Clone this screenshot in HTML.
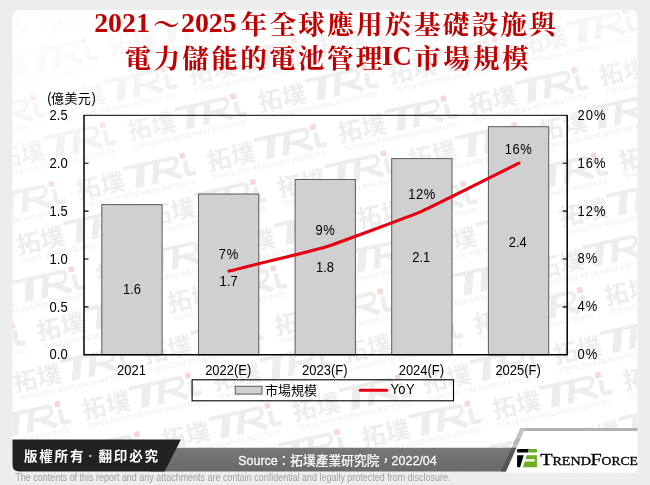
<!DOCTYPE html>
<html lang="zh-Hant"><head><meta charset="utf-8"><title>2021-2025 BMIC market</title>
<style>
html,body{margin:0;padding:0}
body{width:650px;height:485px;overflow:hidden;background:#ededed;font-family:"Liberation Sans",sans-serif}
svg{display:block}
text{font-family:"Liberation Sans",sans-serif}
.ser text{font-family:"Liberation Serif",serif;font-weight:bold}
.serr text{font-family:"Liberation Serif",serif;font-weight:normal}
.ax{fill:#000}
</style></head><body>
<svg style="will-change:transform" width="650" height="485" viewBox="0 0 650 485">
<defs>
<clipPath id="panel"><path d="M20 10H630Q637.5 10 637.5 17.5V469.4L634.5 472.4H505.5L506 471.4H19.5Q12.5 471.4 12.5 464.4V17.5Q12.5 10 20 10Z"/></clipPath>
<linearGradient id="ftop" x1="0" y1="0" x2="0" y2="1"><stop offset="0" stop-color="#fff" stop-opacity="0.6"/><stop offset="1" stop-color="#fff" stop-opacity="0"/></linearGradient>
<radialGradient id="ftl" gradientUnits="userSpaceOnUse" cx="12" cy="10" r="230"><stop offset="0" stop-color="#fff" stop-opacity="0.8"/><stop offset="0.45" stop-color="#fff" stop-opacity="0.5"/><stop offset="1" stop-color="#fff" stop-opacity="0"/></radialGradient>
<linearGradient id="gbar" x1="0" y1="0" x2="0" y2="1"><stop offset="0" stop-color="#787878"/><stop offset="1" stop-color="#696969"/></linearGradient>

<g id="wm">
<text x="-110.5" y="20.6" font-size="24" fill="#ededed" textLength="48.5" lengthAdjust="spacing" style="font-family:'Liberation Sans','Noto Sans CJK TC',sans-serif;font-weight:bold">拓墣</text>
<g fill="none" stroke="#ededed" stroke-linecap="butt" stroke-linejoin="round">
<g transform="translate(0 22) skewX(-16) translate(0 -22)">
<path stroke-width="3.8" d="M-66.5 0.3H-17A5.4 5.4 0 0 1 -17 11.1H-30"/>
<path stroke-width="8.5" d="M-48.5 0V22"/><path stroke-width="6.5" d="M-32.5 2V22"/>
<path stroke-width="4.6" d="M-24 11L-5 21.5"/>
</g>
<path stroke-width="4.6" d="M1.2 5.5V16Q1.2 19.6 4.5 19.6H10"/>
</g>
<rect x="-2.8" y="-2.8" width="5.6" height="5.6" fill="#f8d7d9"/>
<text x="-108.8" y="30.4" font-size="6.9" fill="#ececec" textLength="116.5" lengthAdjust="spacingAndGlyphs">TOPOLOGY RESEARCH INSTITUTE</text>
</g>
</defs>
<path fill="#fff" d="M20 10H630Q637.5 10 637.5 17.5V469.4L634.5 472.4H505.5L506 471.4H19.5Q12.5 471.4 12.5 464.4V17.5Q12.5 10 20 10Z"/>
<g clip-path="url(#panel)">
<use href="#wm" transform="translate(13.9 12.1) rotate(-12.31)"/>
<use href="#wm" transform="translate(144.5 -16.4) rotate(-12.31)"/>
<use href="#wm" transform="translate(83.4 39.9) rotate(-12.31)"/>
<use href="#wm" transform="translate(214.1 11.4) rotate(-12.31)"/>
<use href="#wm" transform="translate(344.7 -17.1) rotate(-12.31)"/>
<use href="#wm" transform="translate(32.6 97.6) rotate(-12.31)"/>
<use href="#wm" transform="translate(163.2 69.1) rotate(-12.31)"/>
<use href="#wm" transform="translate(293.8 40.6) rotate(-12.31)"/>
<use href="#wm" transform="translate(424.4 12.1) rotate(-12.31)"/>
<use href="#wm" transform="translate(555.1 -16.4) rotate(-12.31)"/>
<use href="#wm" transform="translate(102.5 125.0) rotate(-12.31)"/>
<use href="#wm" transform="translate(233.1 96.5) rotate(-12.31)"/>
<use href="#wm" transform="translate(363.8 68.0) rotate(-12.31)"/>
<use href="#wm" transform="translate(494.4 39.5) rotate(-12.31)"/>
<use href="#wm" transform="translate(625.0 11.0) rotate(-12.31)"/>
<use href="#wm" transform="translate(755.6 -17.5) rotate(-12.31)"/>
<use href="#wm" transform="translate(51.6 184.1) rotate(-12.31)"/>
<use href="#wm" transform="translate(182.3 155.6) rotate(-12.31)"/>
<use href="#wm" transform="translate(312.9 127.1) rotate(-12.31)"/>
<use href="#wm" transform="translate(443.5 98.6) rotate(-12.31)"/>
<use href="#wm" transform="translate(574.1 70.1) rotate(-12.31)"/>
<use href="#wm" transform="translate(704.8 41.6) rotate(-12.31)"/>
<use href="#wm" transform="translate(-8.4 239.0) rotate(-12.31)"/>
<use href="#wm" transform="translate(122.2 210.5) rotate(-12.31)"/>
<use href="#wm" transform="translate(252.8 182.0) rotate(-12.31)"/>
<use href="#wm" transform="translate(383.4 153.5) rotate(-12.31)"/>
<use href="#wm" transform="translate(514.1 125.0) rotate(-12.31)"/>
<use href="#wm" transform="translate(644.7 96.5) rotate(-12.31)"/>
<use href="#wm" transform="translate(775.3 68.0) rotate(-12.31)"/>
<use href="#wm" transform="translate(71.4 269.5) rotate(-12.31)"/>
<use href="#wm" transform="translate(202.0 241.0) rotate(-12.31)"/>
<use href="#wm" transform="translate(332.6 212.5) rotate(-12.31)"/>
<use href="#wm" transform="translate(463.3 184.0) rotate(-12.31)"/>
<use href="#wm" transform="translate(593.9 155.5) rotate(-12.31)"/>
<use href="#wm" transform="translate(724.5 126.9) rotate(-12.31)"/>
<use href="#wm" transform="translate(12.0 325.4) rotate(-12.31)"/>
<use href="#wm" transform="translate(142.6 296.9) rotate(-12.31)"/>
<use href="#wm" transform="translate(273.2 268.4) rotate(-12.31)"/>
<use href="#wm" transform="translate(403.8 239.9) rotate(-12.31)"/>
<use href="#wm" transform="translate(534.5 211.4) rotate(-12.31)"/>
<use href="#wm" transform="translate(665.1 182.9) rotate(-12.31)"/>
<use href="#wm" transform="translate(118.8 348.3) rotate(-12.31)"/>
<use href="#wm" transform="translate(249.4 319.8) rotate(-12.31)"/>
<use href="#wm" transform="translate(380.0 291.3) rotate(-12.31)"/>
<use href="#wm" transform="translate(510.7 262.8) rotate(-12.31)"/>
<use href="#wm" transform="translate(641.3 234.3) rotate(-12.31)"/>
<use href="#wm" transform="translate(771.9 205.8) rotate(-12.31)"/>
<use href="#wm" transform="translate(57.2 404.1) rotate(-12.31)"/>
<use href="#wm" transform="translate(187.8 375.6) rotate(-12.31)"/>
<use href="#wm" transform="translate(318.4 347.1) rotate(-12.31)"/>
<use href="#wm" transform="translate(449.0 318.6) rotate(-12.31)"/>
<use href="#wm" transform="translate(579.7 290.1) rotate(-12.31)"/>
<use href="#wm" transform="translate(710.3 261.6) rotate(-12.31)"/>
<use href="#wm" transform="translate(6.1 462.8) rotate(-12.31)"/>
<use href="#wm" transform="translate(136.7 434.3) rotate(-12.31)"/>
<use href="#wm" transform="translate(267.4 405.8) rotate(-12.31)"/>
<use href="#wm" transform="translate(398.0 377.3) rotate(-12.31)"/>
<use href="#wm" transform="translate(528.6 348.8) rotate(-12.31)"/>
<use href="#wm" transform="translate(659.2 320.3) rotate(-12.31)"/>
<use href="#wm" transform="translate(789.9 291.8) rotate(-12.31)"/>
<use href="#wm" transform="translate(75.5 489.1) rotate(-12.31)"/>
<use href="#wm" transform="translate(206.1 460.6) rotate(-12.31)"/>
<use href="#wm" transform="translate(336.8 432.1) rotate(-12.31)"/>
<use href="#wm" transform="translate(467.4 403.6) rotate(-12.31)"/>
<use href="#wm" transform="translate(598.0 375.1) rotate(-12.31)"/>
<use href="#wm" transform="translate(728.7 346.6) rotate(-12.31)"/>
<use href="#wm" transform="translate(155.4 519.8) rotate(-12.31)"/>
<use href="#wm" transform="translate(286.0 491.3) rotate(-12.31)"/>
<use href="#wm" transform="translate(416.7 462.8) rotate(-12.31)"/>
<use href="#wm" transform="translate(547.3 434.3) rotate(-12.31)"/>
<use href="#wm" transform="translate(677.9 405.8) rotate(-12.31)"/>
<use href="#wm" transform="translate(355.2 517.7) rotate(-12.31)"/>
<use href="#wm" transform="translate(485.9 489.2) rotate(-12.31)"/>
<use href="#wm" transform="translate(616.5 460.7) rotate(-12.31)"/>
<use href="#wm" transform="translate(747.1 432.2) rotate(-12.31)"/>
<rect x="12" y="10" width="626" height="85" fill="url(#ftop)"/>
<rect x="12" y="10" width="240" height="240" fill="url(#ftl)"/>
</g>
<g fill="#c00000" font-size="26.7" style="font-weight:bold">
<text x="153" y="34" style="font-family:'Liberation Serif','Noto Serif CJK SC',serif;font-weight:bold">～</text>
<text x="240.5" y="34" textLength="315.5" lengthAdjust="spacing" style="font-family:'Liberation Serif','Noto Serif CJK SC',serif;font-weight:bold">年全球應用於基礎設施與</text>
<text x="124.5" y="67.5" textLength="258" lengthAdjust="spacing" style="font-family:'Liberation Serif','Noto Serif CJK SC',serif;font-weight:bold">電力儲能的電池管理</text>
<text x="414" y="67.5" textLength="114.7" lengthAdjust="spacing" style="font-family:'Liberation Serif','Noto Serif CJK SC',serif;font-weight:bold">市場規模</text>
</g>
<g class="ser" fill="#c00000" font-size="26.7">
<text x="94.2" y="31.6" textLength="55.6" lengthAdjust="spacingAndGlyphs">2021</text>
<text x="181" y="31.6" textLength="55.6" lengthAdjust="spacingAndGlyphs">2025</text>
<text x="382" y="64.9">IC</text>
</g>
<rect x="101.8" y="204.6" width="60.3" height="150.2" fill="#d0d0d0" stroke="#5a5a5a" stroke-width="1"/>
<rect x="198.5" y="194.0" width="60.3" height="160.8" fill="#d0d0d0" stroke="#5a5a5a" stroke-width="1"/>
<rect x="295.1" y="179.5" width="60.3" height="175.3" fill="#d0d0d0" stroke="#5a5a5a" stroke-width="1"/>
<rect x="391.7" y="158.6" width="60.3" height="196.2" fill="#d0d0d0" stroke="#5a5a5a" stroke-width="1"/>
<rect x="488.4" y="126.7" width="60.3" height="228.1" fill="#d0d0d0" stroke="#5a5a5a" stroke-width="1"/>
<path fill="none" stroke="#000" stroke-width="1.5" d="M84.0 115.3V354.8H567.2V115.3"/>
<path fill="none" stroke="#000" stroke-width="1" d="M83.4 115.3H567.8000000000001"/>
<path fill="none" stroke="#000" stroke-width="1.1" d="M84.0 306.9h4.5M567.2 306.9h-4.5M84.0 259.0h4.5M567.2 259.0h-4.5M84.0 211.1h4.5M567.2 211.1h-4.5M84.0 163.2h4.5M567.2 163.2h-4.5"/>
<g class="ax">
<text class="ax" transform="translate(67.6 359.4) scale(0.94 1)" font-size="13.8" text-anchor="end">0.0</text>
<text class="ax" transform="translate(67.6 311.5) scale(0.94 1)" font-size="13.8" text-anchor="end">0.5</text>
<text class="ax" transform="translate(67.6 263.6) scale(0.94 1)" font-size="13.8" text-anchor="end">1.0</text>
<text class="ax" transform="translate(67.6 215.7) scale(0.94 1)" font-size="13.8" text-anchor="end">1.5</text>
<text class="ax" transform="translate(67.6 167.8) scale(0.94 1)" font-size="13.8" text-anchor="end">2.0</text>
<text class="ax" transform="translate(67.6 119.9) scale(0.94 1)" font-size="13.8" text-anchor="end">2.5</text>
<text class="ax" transform="translate(577.6 359.2) scale(0.94 1)" font-size="13.8" letter-spacing="1">0%</text>
<text class="ax" transform="translate(577.6 311.3) scale(0.94 1)" font-size="13.8" letter-spacing="1">4%</text>
<text class="ax" transform="translate(577.6 263.4) scale(0.94 1)" font-size="13.8" letter-spacing="1">8%</text>
<text class="ax" transform="translate(577.6 215.5) scale(0.94 1)" font-size="13.8" letter-spacing="1">12%</text>
<text class="ax" transform="translate(577.6 167.6) scale(0.94 1)" font-size="13.8" letter-spacing="1">16%</text>
<text class="ax" transform="translate(577.6 119.7) scale(0.94 1)" font-size="13.8" letter-spacing="1">20%</text>
<text class="ax" transform="translate(131.5 374.6) scale(0.94 1)" font-size="13.8" text-anchor="middle">2021</text>
<text class="ax" transform="translate(228.2 374.6) scale(0.94 1)" font-size="13.8" text-anchor="middle">2022(E)</text>
<text class="ax" transform="translate(324.8 374.6) scale(0.94 1)" font-size="13.8" text-anchor="middle">2023(F)</text>
<text class="ax" transform="translate(421.4 374.6) scale(0.94 1)" font-size="13.8" text-anchor="middle">2024(F)</text>
<text class="ax" transform="translate(518.1 374.6) scale(0.94 1)" font-size="13.8" text-anchor="middle">2025(F)</text>
<text class="ax" transform="translate(132.0 294.0) scale(0.94 1)" font-size="13.8" text-anchor="middle">1.6</text>
<text class="ax" transform="translate(228.6 286.0) scale(0.94 1)" font-size="13.8" text-anchor="middle">1.7</text>
<text class="ax" transform="translate(325.0 272.0) scale(0.94 1)" font-size="13.8" text-anchor="middle">1.8</text>
<text class="ax" transform="translate(421.3 262.0) scale(0.94 1)" font-size="13.8" text-anchor="middle">2.1</text>
<text class="ax" transform="translate(517.8 246.5) scale(0.94 1)" font-size="13.8" text-anchor="middle">2.4</text>
<text class="ax" transform="translate(228.8 258.7) scale(0.94 1)" font-size="13.8" text-anchor="middle" letter-spacing="0.6">7%</text>
<text class="ax" transform="translate(325.4 234.8) scale(0.94 1)" font-size="13.8" text-anchor="middle" letter-spacing="0.6">9%</text>
<text class="ax" transform="translate(422.1 198.6) scale(0.94 1)" font-size="13.8" text-anchor="middle" letter-spacing="0.6">12%</text>
<text class="ax" transform="translate(518.6 153.7) scale(0.94 1)" font-size="13.8" text-anchor="middle" letter-spacing="0.6">16%</text>
</g>
<text class="ax" transform="translate(47.2 103.3) scale(0.94 1)" font-size="13.8">(</text>
<text class="ax" transform="translate(91.6 103.3) scale(0.94 1)" font-size="13.8">)</text>
<text class="ax" x="51" y="103.3" font-size="13" textLength="39.8" lengthAdjust="spacing" style="font-family:'Liberation Sans','Noto Sans CJK TC',sans-serif">億美元</text>
<path fill="none" stroke="#e60012" stroke-width="3.1" stroke-linecap="round" stroke-linejoin="round" d="M229.0 271.0C233.3 269.9 316.9 249.7 325.6 247.0C334.3 244.3 413.5 214.9 422.2 211.1C430.9 207.3 514.5 165.4 518.9 163.2"/>
<rect x="192.1" y="379.8" width="261.4" height="21" fill="none" stroke="#000" stroke-width="1.1"/>
<rect x="235.2" y="386.3" width="26.8" height="7.8" fill="#d0d0d0" stroke="#5a5a5a" stroke-width="1"/>
<text class="ax" x="265" y="394.6" font-size="13" textLength="52" lengthAdjust="spacing" style="font-family:'Liberation Sans','Noto Sans CJK TC',sans-serif">市場規模</text>
<path stroke="#e60012" stroke-width="3.1" stroke-linecap="round" d="M360.3 390.3H386.6"/>
<text class="ax" transform="translate(390.4 394.2) scale(0.94 1)" font-size="13.8" letter-spacing="0.5">YoY</text>
<path fill="#fff" d="M525.3 428H637.5V469.4L634.5 472.4H505.5Z"/>
<path fill="url(#gbar)" d="M150 447.8H516.5L506 471.4H150Z"/>
<path fill="#000" fill-opacity="0.24" d="M520.3 428H525.3L505.7 472H500.7Z"/>
<path fill="#b2b2b2" d="M525.3 428H637.5V431H524Z"/>
<path fill="#222" d="M12.5 439.4H181L164.6 471.4H19.5Q12.5 471.4 12.5 464.4Z"/>
<text x="24" y="460.8" font-size="13.5" fill="#fff" textLength="59.4" lengthAdjust="spacing" style="font-family:'Liberation Sans','Noto Sans CJK TC',sans-serif;font-weight:bold">版權所有</text>
<text x="98.5" y="460.8" font-size="13.5" fill="#fff" textLength="59.6" lengthAdjust="spacing" style="font-family:'Liberation Sans','Noto Sans CJK TC',sans-serif;font-weight:bold">翻印必究</text>
<circle cx="90.3" cy="456" r="1.1" fill="#fff"/>
<text transform="translate(238.2 464.9) scale(0.912 1)" font-size="13.7" fill="#fff" stroke="#fff" stroke-width="0.25">Source</text>
<text x="277.5" y="464.9" font-size="12.7" fill="#fff" stroke="#fff" stroke-width="0.25" textLength="114.75" lengthAdjust="spacing" style="font-family:'Liberation Sans','Noto Sans CJK TC',sans-serif">：拓墣產業研究院，</text>
<text transform="translate(391.6 464.9) scale(0.912 1)" font-size="13.7" fill="#fff" stroke="#fff" stroke-width="0.25">2022/04</text>
<path fill="#000" d="M518.2 449H528.9L527.9 452.5H517.1V450.1Q517.1 449 518.2 449ZM517.1 455.2H523.8L520.1 467.2H518.1Q517.1 467.2 517.1 466.2Z"/>
<path fill="#6ab023" d="M528.9 449H535.9Q536.9 449 536.9 450V452.5H527.9ZM526.7 455.2H536.9V467.2H523L524.7 461.6H534.5L535 459.2H525.4Z"/>
<g class="serr" fill="#000" stroke="#000" stroke-width="0.3">
<text x="540.2" y="464.7" font-size="17.2" textLength="12.4" lengthAdjust="spacingAndGlyphs">T</text>
<text x="552.4" y="464.7" font-size="12.6" textLength="38.6" lengthAdjust="spacingAndGlyphs">REND</text>
<text x="590.6" y="464.7" font-size="17.2" textLength="11.2" lengthAdjust="spacingAndGlyphs">F</text>
<text x="601.6" y="464.7" font-size="12.6" textLength="36.2" lengthAdjust="spacingAndGlyphs">ORCE</text>
</g>
<text x="15.4" y="480.8" font-size="10" fill="#a0a0a0" textLength="435" lengthAdjust="spacingAndGlyphs">The contents of this report and any attachments are contain confidential and legally protected from disclosure.</text>
</svg></body></html>
